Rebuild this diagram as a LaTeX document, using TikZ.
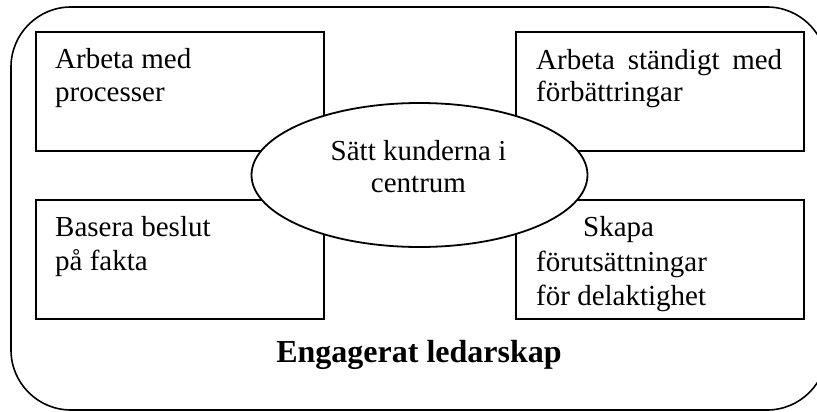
\documentclass[tikz,border=0pt]{standalone}
\usepackage{fontspec}
\setmainfont{Liberation Serif}
\usetikzlibrary{shapes.geometric}
\begin{document}
\begin{tikzpicture}[x=1pt,y=-1pt,
  panel/.style={draw, line width=1.8pt, inner sep=0pt, anchor=north west,
    minimum width=288pt, minimum height=119pt},
  hubshape/.style={draw, fill=white, ellipse, inner sep=0pt, line width=1.8pt,
    minimum width=336pt, minimum height=144pt},
  txt/.style={anchor=base west, inner sep=0pt, font=\fontsize{29}{33}\selectfont},
  ctxt/.style={anchor=base, inner sep=0pt, font=\fontsize{29}{33}\selectfont},
  title/.style={anchor=base, inner sep=0pt, font=\fontsize{32}{37}\selectfont\bfseries},
]
\useasboundingbox (0,0) rectangle (817,412);
\clip (0,0) rectangle (817,412);

% outer frame
\draw[line width=1.6pt, rounded corners=60pt] (11,7) rectangle (827,410);

% four corner panels
\node[panel] (tl) at (35,31) {};
\node[panel] (bl) at (35,199) {};
\node[panel] (tr) at (515,31) {};
\node[panel] (br) at (515,199) {};

% central ellipse
\node[hubshape] (hub) at (419.5,175) {};

% panel texts
\node[txt] (t1a) at (55,69) {Arbeta med};
\node[txt] (t1b) at (55,101) {processer};
\node[txt] (t2a) at (536,70) {\makebox[246pt][s]{Arbeta ständigt med}};
\node[txt] (t2b) at (536,101) {förbättringar};
\node[txt] (t3a) at (55,236) {Basera beslut};
\node[txt] (t3b) at (55,270) {på fakta};
\node[txt] (t4a) at (583,236) {Skapa};
\node[txt] (t4b) at (536,271) {förutsättningar};
\node[txt] (t4c) at (536,305) {för delaktighet};

% centre text
\node[ctxt] (c1) at (418.5,160) {Sätt kunderna i};
\node[ctxt] (c2) at (418.5,192) {centrum};

% bottom title
\node[title] (ttl) at (419,362) {Engagerat ledarskap};
\end{tikzpicture}
\end{document}
